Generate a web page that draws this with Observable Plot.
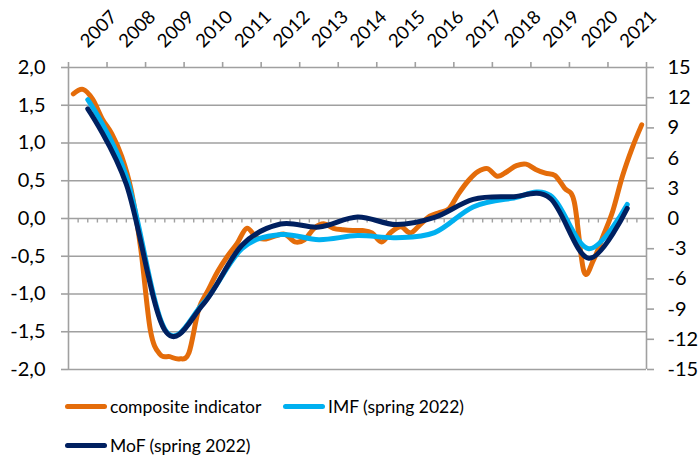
<!DOCTYPE html>
<html>
<head>
<meta charset="utf-8">
<script src="https://cdn.jsdelivr.net/npm/d3@7"></script>
<script src="https://cdn.jsdelivr.net/npm/@observablehq/plot@0.6"></script>
<style>
  body { margin: 0; background: #fff; }
  #wrap { position: relative; width: 700px; height: 459px; font-family: Lato, "Open Sans", sans-serif; color: #000; }
  #legend { position: relative; width: 700px; height: 79px; font-size: 17.5px; }
  .item { position: absolute; display: flex; align-items: center; white-space: nowrap; }
  .sw { width: 42px; height: 5px; border-radius: 3px; margin-right: 3px; }
</style>
</head>
<body>
<div id="wrap">
  <div id="chart"></div>
  <div id="legend"></div>
</div>
<script>
// ---- data ----
const years = [2007, 2008, 2009, 2010, 2011, 2012, 2013, 2014, 2015, 2016, 2017, 2018, 2019, 2020, 2021];
// composite indicator, quarterly 2007Q1..2021Q4 (left axis)
const composite = [
  1.65, 1.71, 1.58, 1.32,
  1.12, 0.83, 0.38, -0.40,
  -1.48, -1.80, -1.83, -1.86,
  -1.78, -1.21, -0.95, -0.70,
  -0.50, -0.33, -0.13, -0.25,
  -0.27, -0.23, -0.21, -0.31,
  -0.28, -0.13, -0.07, -0.13,
  -0.15, -0.16, -0.16, -0.19,
  -0.31, -0.18, -0.11, -0.19,
  -0.08, 0.03, 0.08, 0.13,
  0.33, 0.50, 0.62, 0.66,
  0.56, 0.62, 0.70, 0.72,
  0.65, 0.60, 0.57, 0.40,
  0.22, -0.70, -0.55, -0.23,
  0.10, 0.56, 0.93, 1.24
];
// IMF and MoF (spring 2022), annual (right axis)
const imf = [11.8, 4.2, -11.0, -8.4, -3.0, -1.6, -2.1, -1.7, -1.9, -1.4, 1.15, 2.0, 2.3, -3.0, 1.4];
const mof = [10.9, 3.4, -11.1, -8.5, -2.65, -0.55, -0.85, 0.15, -0.6, 0.1, 1.9, 2.15, 2.0, -3.95, 1.0];
const leftTicks = [-2, -1.5, -1, -0.5, 0, 0.5, 1, 1.5, 2];
const rightTicks = [-15, -12, -9, -6, -3, 0, 3, 6, 9, 12, 15];
const seriesNames = ["composite indicator", "IMF (spring 2022)", "MoF (spring 2022)"];
const seriesColors = ["#E46C0A", "#00B0F0", "#002060"];

// ---- derived ----
const leftMax = d3.max(leftTicks), rightMax = d3.max(rightTicks);
const ratio = rightMax / leftMax;           // right units per left unit
const nQ = years.length * 4;
const compData = composite.map((v, i) => ({q: i + 0.5, v}));
const yearPos = (k) => k * 4 + 2;            // centre of year k (in quarter units)
const imfData = imf.map((v, k) => ({q: yearPos(k), v: v / ratio}));
const mofData = mof.map((v, k) => ({q: yearPos(k), v: v / ratio}));
const yearBounds = d3.range(0, nQ + 1, 4);
const quarterBounds = d3.range(1, nQ);
const yearLabel = new Map(years.map((y, k) => [yearPos(k), String(y)]));
const fmtLeft = d => d.toFixed(1).replace(".", ",").replace("\u2212", "-");
const fmtRight = d => String(Math.round(d * ratio));
const grid = "#a0a0a0";
const minorLen = 0.06;

const chart = Plot.plot({
  width: 700,
  height: 380,
  marginLeft: 68,
  marginRight: 54,
  marginTop: 67,
  marginBottom: 11,
  x: {domain: [0, nQ]},
  y: {domain: [-leftMax, leftMax]},
  style: {fontFamily: "Lato, 'Open Sans', sans-serif", fontSize: "19px", color: "#000", background: "#fff", overflow: "visible"},
  marks: [
    Plot.ruleY(leftTicks, {stroke: grid, strokeWidth: 1.6}),
    Plot.ruleX([0, nQ], {stroke: grid, strokeWidth: 1.6}),
    Plot.ruleX(quarterBounds, {x: d => d, y1: 0, y2: -minorLen, stroke: grid, strokeWidth: 1.4}),
    Plot.axisY(leftTicks, {anchor: "left", label: null, tickSize: 7, tickPadding: 16, stroke: grid, strokeWidth: 1.6, fill: "#000", fontSize: 20, tickFormat: fmtLeft}),
    Plot.axisY(rightTicks.map(r => r / ratio), {anchor: "right", label: null, tickSize: 7, tickPadding: 14, stroke: grid, strokeWidth: 1.6, fill: "#000", fontSize: 20, tickFormat: fmtRight}),
    Plot.axisX(yearBounds, {anchor: "top", label: null, tickSize: 6, stroke: grid, strokeWidth: 1.6, tickFormat: () => ""}),
    Plot.axisX(years.map((y, k) => yearPos(k)), {anchor: "top", label: null, tickSize: 0, tickPadding: 19, tickRotate: -45, textAnchor: "start", lineAnchor: "bottom", fill: "#000", fontSize: 18.5, tickFormat: d => yearLabel.get(d)}),
    Plot.line(compData, {x: "q", y: "v", stroke: seriesColors[0], strokeWidth: 5, curve: "cardinal", strokeLinecap: "round", strokeLinejoin: "round"}),
    Plot.line(imfData, {x: "q", y: "v", stroke: seriesColors[1], strokeWidth: 5, curve: "cardinal", strokeLinecap: "round", strokeLinejoin: "round"}),
    Plot.line(mofData, {x: "q", y: "v", stroke: seriesColors[2], strokeWidth: 5, curve: "cardinal", strokeLinecap: "round", strokeLinejoin: "round"})
  ]
});
document.getElementById("chart").appendChild(chart);

// legend
const legendPos = [[65, 26], [283, 26], [65, 65]];
const legend = document.getElementById("legend");
seriesNames.forEach((name, i) => {
  const it = document.createElement("div");
  it.className = "item";
  it.style.left = legendPos[i][0] + "px";
  it.style.top = (legendPos[i][1] - 12) + "px";
  it.style.height = "24px";
  const sw = document.createElement("span");
  sw.className = "sw";
  sw.style.background = seriesColors[i];
  const tx = document.createElement("span");
  tx.textContent = name;
  it.appendChild(sw);
  it.appendChild(tx);
  legend.appendChild(it);
});
</script>
</body>
</html>
